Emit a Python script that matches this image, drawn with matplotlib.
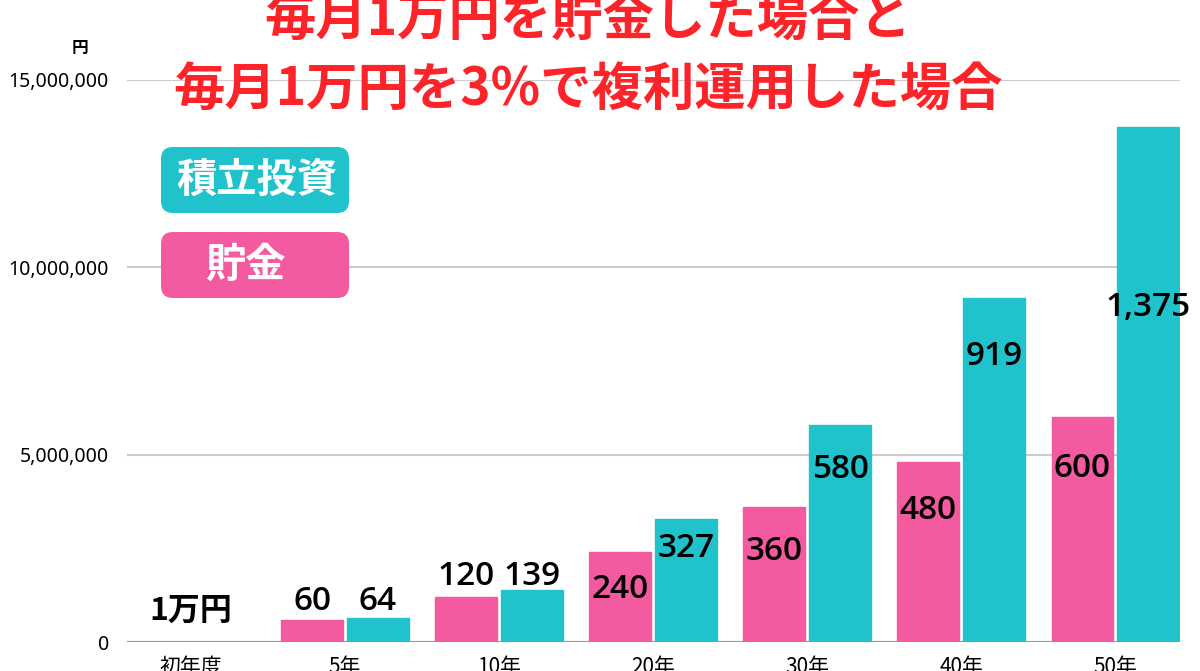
import matplotlib
matplotlib.use("Agg")
import matplotlib.pyplot as plt
from matplotlib.patches import FancyBboxPatch
from matplotlib.ticker import FuncFormatter
import numpy as np

plt.rcParams['font.family'] = ['Noto Sans CJK JP', 'DejaVu Sans']
LATIN = ['Noto Sans', 'Noto Sans CJK JP']
NUMS = ['Open Sans', 'Noto Sans CJK JP']

# data (yen)
years = ['初年度', '5年', '10年', '20年', '30年', '40年', '50年']
savings = [10000, 600000, 1200000, 2400000, 3600000, 4800000, 6000000]
invest = [10000, 640000, 1390000, 3270000, 5800000, 9190000, 13750000]
savings_labels = ['', '60', '120', '240', '360', '480', '600']
invest_labels = ['', '64', '139', '327', '580', '919', '1,375']
first_label = '1万円'

PINK = '#f45aa0'
TEAL = '#20c2cb'
RED = '#fe2229'

# label vertical offsets from the bar top, in points (negative = above)
sav_off = [0, -13, -15, 27, 32, 35, 37]
inv_off = [0, -12, -10, 21, 32, 42, 130]

fig = plt.figure(figsize=(12, 6.71), dpi=100)
ax = fig.add_axes([127/1200, 29/671, (1180-127)/1200, (642-80)/671])

x = np.arange(len(years))
w = 0.40
off = 0.214
ax.bar(x - off, savings, w, color=PINK, edgecolor=PINK, linewidth=1, zorder=2)
ax.bar(x + off, invest, w, color=TEAL, edgecolor=TEAL, linewidth=1, zorder=2)

for i in range(len(years)):
    if savings_labels[i]:
        ax.annotate(savings_labels[i], (x[i] - off, savings[i]), xytext=(0, -sav_off[i]),
                    textcoords='offset points', ha='center', va='center', family=NUMS,
                    fontsize=24, fontweight=600, color='black', zorder=3)
    if invest_labels[i]:
        ax.annotate(invest_labels[i], (x[i] + off, invest[i]), xytext=(0, -inv_off[i]),
                    textcoords='offset points', ha='center', va='center', family=NUMS,
                    fontsize=24, fontweight=600, color='black', zorder=3)
ax.annotate(first_label, (x[0], savings[0]), xytext=(0, 22), textcoords='offset points',
            ha='center', va='center', fontsize=23, fontweight='bold', color='black')

ax.set_xlim(-0.415, 6.42)
ax.set_ylim(0, 15000000)
ax.set_yticks([0, 5000000, 10000000, 15000000])
ax.yaxis.set_major_formatter(FuncFormatter(lambda v, p: '{:,.0f}'.format(v)))
ax.set_xticks(x)
ax.set_xticklabels(years)
ax.tick_params(axis='y', length=0, pad=13, labelsize=14)
ax.tick_params(axis='x', length=0, pad=10, labelsize=15)
for lab in ax.get_yticklabels():
    lab.set_family(LATIN)
for s in ax.spines.values():
    s.set_visible(False)
ax.yaxis.grid(True, color='#cccccc', linewidth=1.5)
ax.set_axisbelow(True)
ax.axhline(0, color='#999999', linewidth=1.5, zorder=1)

fig.text(80/1200, 1 - 48/671, '円', ha='center', va='center', fontsize=12, fontweight='bold')

# title
fig.text(588/1200, 1 - 20/671, '毎月1万円を貯金した場合と', ha='center', va='center',
         fontsize=37, fontweight='bold', color=RED)
fig.text(588/1200, 1 - 90/671, '毎月1万円を3%で複利運用した場合', ha='center', va='center',
         fontsize=37, fontweight='bold', color=RED)

# legend boxes
for (y0, y1, col, txt, tx, ha) in [(147, 213, TEAL, '積立投資', 176, 'left'),
                                   (232, 298, PINK, '貯金', 245, 'center')]:
    box = FancyBboxPatch((161/1200, 1 - y1/671), (349-161)/1200, (y1-y0)/671,
                         boxstyle='round,pad=0,rounding_size=0.01',
                         transform=fig.transFigure, facecolor=col, edgecolor='none',
                         mutation_aspect=1200/671)
    fig.patches.append(box)
    fig.text(tx/1200, 1 - (y0+y1)/2/671, txt, ha=ha, va='center', fontsize=29,
             fontweight='bold', color='white')

fig.savefig('out.png', dpi=100)
